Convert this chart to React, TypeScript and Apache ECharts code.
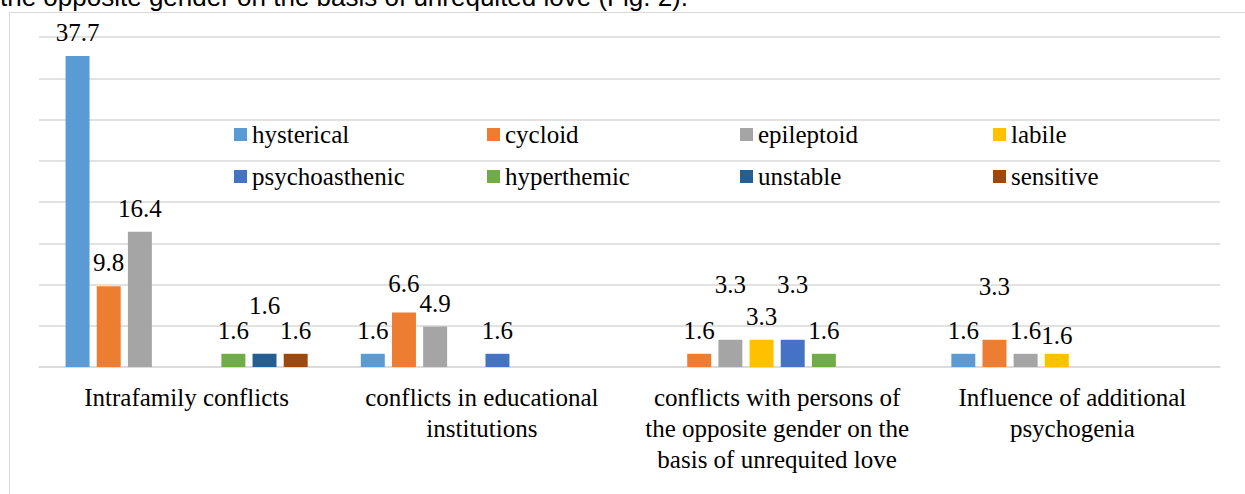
import React, { useEffect, useRef } from "react";
import * as echarts from "echarts";

const categories = [
  "Intrafamily conflicts",
  "conflicts in educational\ninstitutions",
  "conflicts with persons of\nthe opposite gender on the\nbasis of unrequited love",
  "Influence of additional\npsychogenia",
];

const seriesNames = [
  "hysterical",
  "cycloid",
  "epileptoid",
  "labile",
  "psychoasthenic",
  "hyperthemic",
  "unstable",
  "sensitive",
];

const hysterical = [37.7, 1.6, null, 1.6];
const cycloid = [9.8, 6.6, 1.6, 3.3];
const epileptoid = [16.4, 4.9, 3.3, 1.6];
const labile = [null, null, 3.3, 1.6];
const psychoasthenic = [null, 1.6, 3.3, null];
const hyperthemic = [1.6, null, 1.6, null];
const unstable = [1.6, null, null, null];
const sensitive = [1.6, null, null, null];

const seriesValues = [
  hysterical,
  cycloid,
  epileptoid,
  labile,
  psychoasthenic,
  hyperthemic,
  unstable,
  sensitive,
];

const colors = [
  "#5B9BD5",
  "#ED7D31",
  "#A5A5A5",
  "#FFC000",
  "#4472C4",
  "#70AD47",
  "#255E91",
  "#9E480E",
];

// label nudges (series index -> category index -> vertical offset in px), mimicking the original's overlap avoidance
const labelNudges: Record<number, Record<number, number>> = {
  1: { 1: -6, 3: -30 },
  2: { 2: -32 },
  3: { 3: 5 },
  4: { 2: -32 },
  6: { 0: -25 },
};

const serif = '"Liberation Serif", "Times New Roman", serif';
const FS = 25;

export default function App() {
  const ref = useRef<HTMLDivElement>(null);
  useEffect(() => {
    if (!ref.current) return;
    const chart = echarts.init(ref.current, undefined, { renderer: "svg" });
    chart.setOption({
      animation: false,
      color: colors,
      graphic: [
        {
          type: "rect",
          shape: { x: 9.5, y: 12.5, width: 1400, height: 600 },
          style: { fill: "none", stroke: "#d9d9d9", lineWidth: 1 },
          silent: true,
        },
        {
          type: "text",
          x: 0,
          y: 9.5,
          style: {
            text: "the opposite gender on the basis of unrequited love (Fig. 2).",
            font: '26px "Liberation Sans", Arial, sans-serif',
            fill: "#000",
            verticalAlign: "bottom",
          },
          silent: true,
        },
      ],
      grid: { left: 39, right: 25, top: 37, bottom: 127, containLabel: false },
      legend: {
        data: seriesNames,
        left: 229,
        top: 117,
        width: 1000,
        itemWidth: 13,
        itemHeight: 13,
        itemGap: 17,
        icon: "rect",
        formatter: (name: string) => `{n|${name}}`,
        textStyle: {
          rich: {
            n: {
              width: 218,
              fontSize: FS,
              lineHeight: 25,
              fontFamily: serif,
              color: "#000",
            },
          },
        },
      },
      xAxis: {
        type: "category",
        data: categories,
        axisLine: { show: true, lineStyle: { color: "#d9d9d9", width: 1.5 } },
        axisTick: { show: false },
        axisLabel: {
          fontSize: FS,
          lineHeight: 31,
          fontFamily: serif,
          color: "#000",
          margin: 15,
          interval: 0,
        },
      },
      yAxis: {
        type: "value",
        min: 0,
        max: 40,
        interval: 5,
        axisLabel: { show: false },
        axisLine: { show: false },
        axisTick: { show: false },
        splitLine: { lineStyle: { color: "#d9d9d9", width: 1.5 } },
      },
      series: seriesNames.map((name, s) => ({
        name,
        type: "bar",
        barCategoryGap: "18%",
        barGap: "30%",
        label: {
          show: true,
          position: "top",
          distance: 11,
          fontSize: FS,
          fontFamily: serif,
          color: "#000",
        },
        data: seriesValues[s].map((v, c) => {
          if (v == null) return null;
          const dy = labelNudges[s]?.[c];
          return dy ? { value: v, label: { offset: [0, dy] } } : v;
        }),
      })),
    });
    return () => chart.dispose();
  }, []);
  return (
    <div
      ref={ref}
      style={{ position: "absolute", left: 0, top: 0, width: 1245, height: 494, background: "#fff" }}
    />
  );
}
